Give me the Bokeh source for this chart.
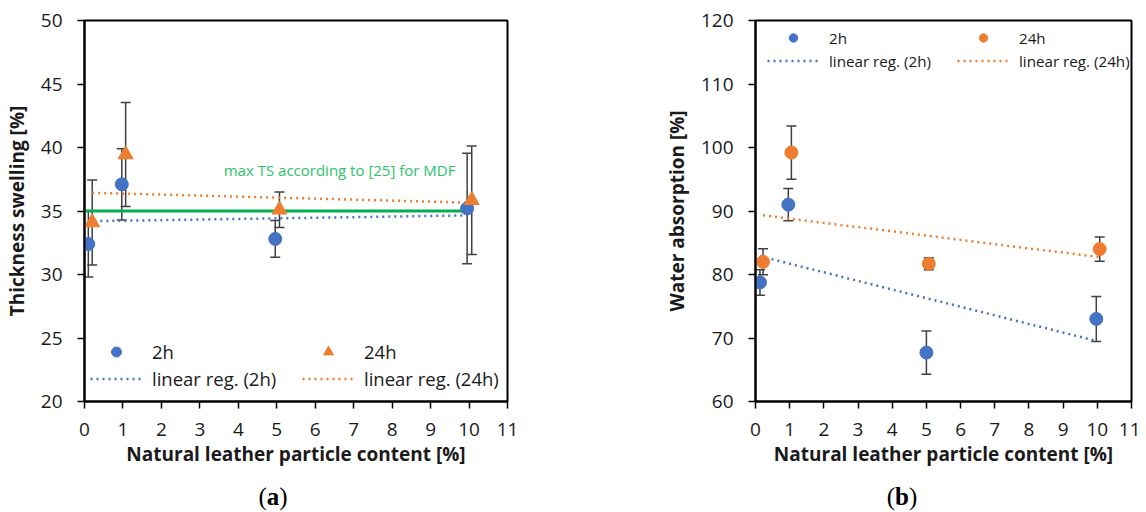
import numpy as np
from bokeh.plotting import figure
from bokeh.layouts import row, column
from bokeh.models import (Range1d, Legend, LegendItem, Whisker, TeeHead,
                          ColumnDataSource, Label, FixedTicker, Div, Spacer)
from bokeh.embed import file_html
from bokeh.resources import INLINE

# ---------------- data ----------------
# (a) thickness swelling
ts_x_2h = [0.1, 0.97, 4.96, 9.95]
ts_2h = [32.4, 37.1, 32.8, 35.2]
ts_err_2h = [2.6, 2.8, 1.45, 4.35]
ts_x_24h = [0.2, 1.07, 5.07, 10.07]
ts_24h = [34.1, 39.45, 35.1, 35.85]
ts_err_24h = [3.35, 4.1, 1.4, 4.27]
mdf_limit_x = [0, 10]
mdf_limit_ts = 35.0

# (b) water absorption
wa_x_2h = [0.13, 0.96, 5.0, 9.97]
wa_2h = [78.75, 91.0, 67.7, 73.0]
wa_err_2h = [2.0, 2.55, 3.4, 3.55]
wa_x_24h = [0.22, 1.05, 5.07, 10.07]
wa_24h = [82.0, 99.2, 81.7, 84.0]
wa_err_24h = [2.05, 4.2, 0.95, 1.9]

x_ticks = list(range(0, 12))
ts_ticks = [20, 25, 30, 35, 40, 45, 50]
wa_ticks = [60, 70, 80, 90, 100, 110, 120]

BLUE = "#4472C4"
ORANGE = "#ED7D31"
GREEN = "#00B050"
GREEN_TXT = "#2BC46A"
ERR = "#404040"
FONT = "Open Sans"
TXT = "#1a1a1a"


def style(p, ylabel, yticks):
    p.xaxis.ticker = FixedTicker(ticks=x_ticks)
    p.yaxis.ticker = FixedTicker(ticks=yticks)
    p.grid.visible = False
    p.outline_line_color = "black"
    p.outline_line_width = 2
    p.xaxis.axis_label = "Natural leather particle content [%]"
    p.yaxis.axis_label = ylabel
    for ax in (p.xaxis[0], p.yaxis[0]):
        ax.axis_line_color = "black"
        ax.axis_line_width = 2
        ax.major_tick_line_color = "black"
        ax.major_tick_line_width = 1.5
        ax.major_tick_out = 7
        ax.major_tick_in = 0
        ax.minor_tick_out = 0
        ax.minor_tick_in = 0
        ax.major_label_text_font = FONT
        ax.major_label_text_font_size = "19px"
        ax.major_label_text_color = TXT
        ax.axis_label_text_font = FONT
        ax.axis_label_text_font_size = "19px"
        ax.axis_label_text_font_style = "bold"
        ax.axis_label_text_color = TXT
    p.xaxis.major_label_standoff = 14
    p.xaxis.axis_label_standoff = 2
    p.yaxis.major_label_standoff = 15
    p.yaxis.axis_label_standoff = 8


def errbars(p, xs, ys, es):
    src = ColumnDataSource(dict(x=xs, lo=[y - e for y, e in zip(ys, es)],
                                hi=[y + e for y, e in zip(ys, es)]))
    w = Whisker(base="x", lower="lo", upper="hi", source=src,
                line_color=ERR, line_width=1.5,
                upper_head=TeeHead(size=10, line_color=ERR, line_width=1.5),
                lower_head=TeeHead(size=10, line_color=ERR, line_width=1.5))
    p.add_layout(w)


def reg_line(p, xs, ys, color):
    k, b = np.polyfit(xs, ys, 1)
    xx = [min(xs), max(xs)]
    return p.line(xx, [k * v + b for v in xx], line_color=color,
                  line_width=2.5, line_dash="2 4")


def legend(p, items, loc, h, sp, fs):
    lg = Legend(items=items, location=loc, orientation="vertical",
                padding=0, margin=0, spacing=sp,
                glyph_width=52, glyph_height=h, label_height=h,
                label_standoff=10, label_text_font=FONT,
                label_text_font_size=fs, label_text_color=TXT,
                border_line_color=None, background_fill_alpha=0)
    p.add_layout(lg)


def caption(letter, width):
    return Div(text="(<b>%s</b>)" % letter, width=width, height=42, margin=0,
               styles={"text-align": "center", "font-family": "Liberation Serif",
                       "font-size": "25px", "padding-top": "13px",
                       "line-height": "28px", "color": "black"})


# ---------------- panel (a) ----------------
p1 = figure(width=600, height=470, output_backend="svg", toolbar_location=None,
            x_range=Range1d(0, 11), y_range=Range1d(20, 50),
            min_border_left=84, min_border_right=93, min_border_top=20,
            min_border_bottom=69)
style(p1, "Thickness swelling [%]", ts_ticks)

errbars(p1, ts_x_2h, ts_2h, ts_err_2h)
errbars(p1, ts_x_24h, ts_24h, ts_err_24h)
g_mdf = p1.line(mdf_limit_x, [mdf_limit_ts] * len(mdf_limit_x),
                line_color=GREEN, line_width=3)
r1_reg2 = reg_line(p1, ts_x_2h, ts_2h, BLUE)
r1_reg24 = reg_line(p1, ts_x_24h, ts_24h, ORANGE)
r1_2h = p1.scatter(ts_x_2h, ts_2h, marker="circle", size=13, fill_color=BLUE,
                   line_color=BLUE)
r1_24h = p1.scatter(ts_x_24h, ts_24h, marker="triangle", size=15,
                    fill_color=ORANGE, line_color=ORANGE)
p1.add_layout(Label(x=3.62, y=38.2, text="max TS according to [25] for MDF",
                    text_font=FONT, text_font_size="15px", text_color=GREEN_TXT,
                    text_baseline="middle"))
legend(p1, [LegendItem(label="2h", renderers=[r1_2h]),
            LegendItem(label="linear reg. (2h)", renderers=[r1_reg2])],
       (6, 10), 25, 2, "18.5px")
legend(p1, [LegendItem(label="24h", renderers=[r1_24h]),
            LegendItem(label="linear reg. (24h)", renderers=[r1_reg24])],
       (218, 10), 25, 2, "18.5px")

# ---------------- panel (b) ----------------
p2 = figure(width=540, height=470, output_backend="svg", toolbar_location=None,
            x_range=Range1d(0, 11), y_range=Range1d(60, 120),
            min_border_left=155, min_border_right=9, min_border_top=20,
            min_border_bottom=68)
style(p2, "Water absorption [%]", wa_ticks)

errbars(p2, wa_x_2h, wa_2h, wa_err_2h)
errbars(p2, wa_x_24h, wa_24h, wa_err_24h)
r2_reg2 = reg_line(p2, wa_x_2h, wa_2h, BLUE)
r2_reg24 = reg_line(p2, wa_x_24h, wa_24h, ORANGE)
r2_2h = p2.scatter(wa_x_2h, wa_2h, marker="circle", size=13, fill_color=BLUE,
                   line_color=BLUE)
r2_24h = p2.scatter(wa_x_24h, wa_24h, marker="circle", size=13,
                    fill_color=ORANGE, line_color=ORANGE)
legend(p2, [LegendItem(label="2h", renderers=[r2_2h]),
            LegendItem(label="linear reg. (2h)", renderers=[r2_reg2])],
       (12, 330), 21, 2, "15.2px")
legend(p2, [LegendItem(label="24h", renderers=[r2_24h]),
            LegendItem(label="linear reg. (24h)", renderers=[r2_reg24])],
       (202, 330), 21, 2, "15.2px")

layout = column(row(p1, p2),
                row(caption("a", 546), Spacer(width=116, height=42),
                    caption("b", 480)))
open("out.html", "w").write(file_html(layout, INLINE))
